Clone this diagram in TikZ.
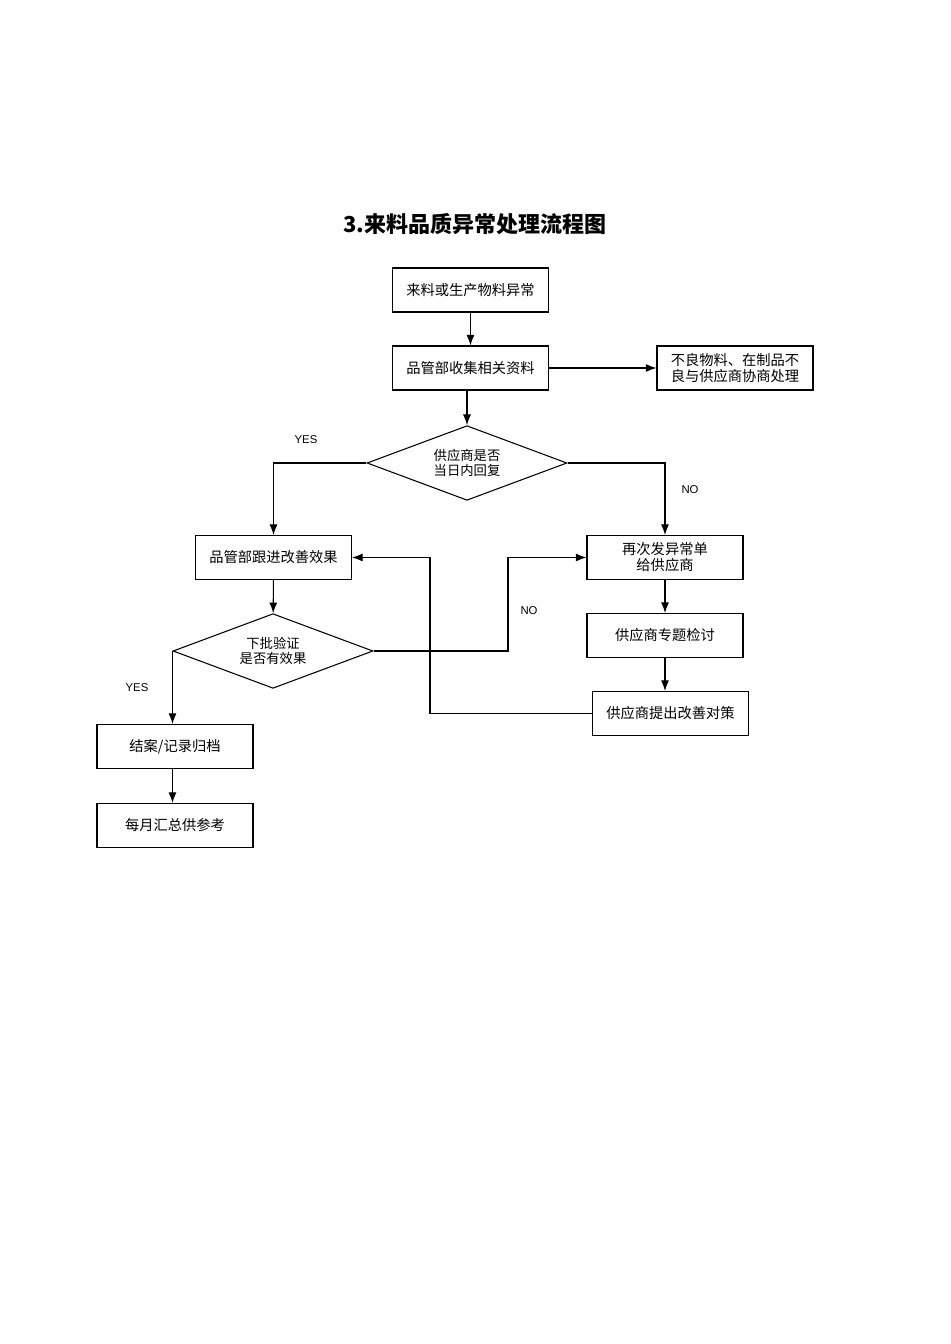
\documentclass[tikz,border=0pt]{standalone}
\usepackage{fontspec}
\setmainfont{Liberation Sans}
\newfontfamily\cjk{Noto Sans CJK SC}
\usetikzlibrary{shapes.geometric,arrows.meta,positioning,calc}

\tikzset{
  stepbox/.style={draw, line width=0.8pt, minimum width=117pt, minimum height=33pt,
    align=center, font=\cjk\fontsize{10.7}{12}\selectfont},
  decide/.style={draw, diamond, line width=0.8pt, inner sep=0pt, minimum width=150pt,
    minimum height=56pt, aspect=2.7, align=center, font=\cjk\fontsize{10}{11.5}\selectfont},
  flow/.style={line width=0.8pt, -{Latex[length=8pt,width=6pt]}},
  tag/.style={font=\fontsize{8.5}{10}\selectfont}
}

\begin{document}
\begin{tikzpicture}[x=0.75pt, y=-0.75pt]
    \useasboundingbox (0,0) rectangle (950,1344);
    \node[font=\cjk\bfseries\fontsize{16.5}{19}\selectfont] (title) at (475,224) {3.来料品质异常处理流程图};

    % main column
    \node[stepbox] (start) at (470.5,290) {来料或生产物料异常};
    \node[stepbox] (collect) at (470.5,368) {品管部收集相关资料};
    \node[stepbox] (handle) at (735,368) {不良物料、在制品不\\良与供应商协商处理};
    \node[decide] (reply) at (467,463) {供应商是否\\当日内回复};

    % left branch
    \node[stepbox] (follow) at (273.5,557.5) {品管部跟进改善效果};
    \node[decide] (verify) at (273,651) {下批验证\\是否有效果};
    \node[stepbox] (close) at (175,746.5) {结案/记录归档};
    \node[stepbox] (monthly) at (175,825.5) {每月汇总供参考};

    % right branch
    \node[stepbox] (resend) at (665,557.5) {再次发异常单\\给供应商};
    \node[stepbox] (review) at (665,635.5) {供应商专题检讨};
    \node[stepbox] (measure) at (670.5,713.5) {供应商提出改善对策};

    \draw[flow] (start) -- (collect);
    \draw[flow] (collect.south -| reply.north) -- (reply);
    \draw[flow] (collect) -- (handle);

    \draw[flow] (reply.west) -| (follow.north);
    \node[tag] (yes1) at (306,440) {YES};
    \draw[flow] (reply.east) -| (resend.north);
    \node[tag] (no1) at (690,490) {NO};

    \draw[flow] (follow) -- (verify);
    \draw[flow] (verify.west) -- (verify.west |- close.north);
    \node[tag] (yes2) at (137,688) {YES};
    \draw[flow] (close.south -| verify.west) -- (monthly.north -| verify.west);

    \draw[flow] (verify.east) -- (508,651) |- (resend.west);
    \node[tag] (no2) at (529,611) {NO};

    \draw[flow] (resend) -- (review);
    \draw[flow] (review) -- (review.south |- measure.north);
    \draw[flow] (measure.west) -- (430,713.5) |- (follow.east);
\end{tikzpicture}
\end{document}
